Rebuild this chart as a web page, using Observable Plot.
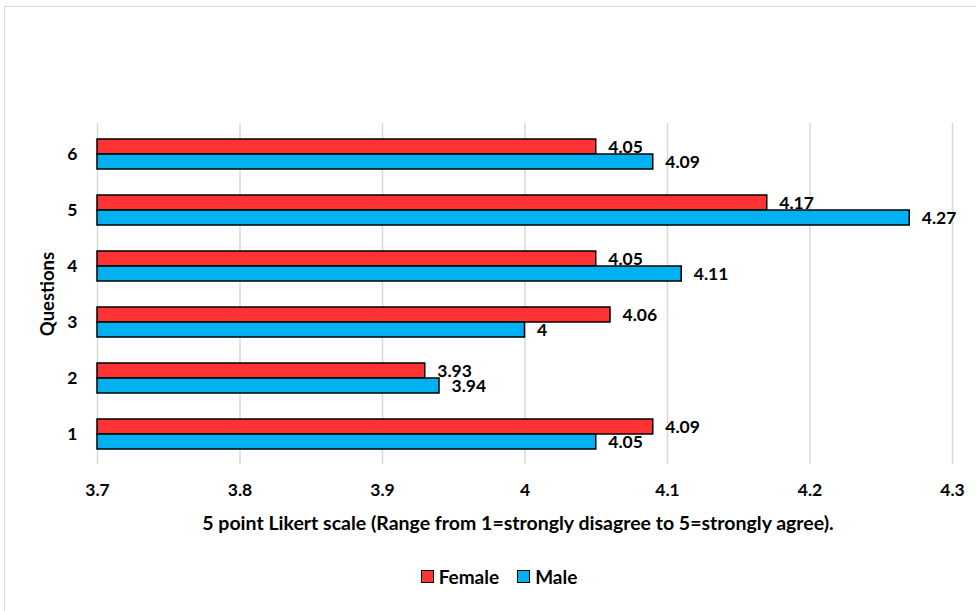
<!DOCTYPE html>
<html>
<head>
<meta charset="utf-8">
<script src="https://cdn.jsdelivr.net/npm/d3@7"></script>
<script src="https://cdn.jsdelivr.net/npm/@observablehq/plot@0.6"></script>
<style>
  body { margin: 0; background: #fff; font-family: Lato, "Open Sans", sans-serif; }
  #wrap { position: relative; width: 976px; height: 611px; overflow: hidden; }
  #frame { position: absolute; left: 4px; top: 6px; width: 1000px; height: 700px; border: 1px solid #d9d9d9; box-sizing: border-box; }
  #chart { position: absolute; left: 0; top: 0; }
  #legend { position: absolute; top: 565px; left: 0; width: 976px; display: flex; justify-content: center; gap: 18px; font-weight: 700; font-size: 19px; color: #000; padding-left: 22px; box-sizing: border-box; }
  .item { display: flex; align-items: center; gap: 5px; }
  .sw { width: 11px; height: 11px; border: 1.5px solid #000; }
</style>
</head>
<body>
<div id="wrap">
  <div id="frame"></div>
  <div id="chart"></div>
  <div id="legend"></div>
</div>
<script>
const questions = ["1", "2", "3", "4", "5", "6"];
const female = [4.09, 3.93, 4.06, 4.05, 4.17, 4.05];
const male = [4.05, 3.94, 4.00, 4.11, 4.27, 4.09];
const xTicks = [3.7, 3.8, 3.9, 4.0, 4.1, 4.2, 4.3];
const seriesNames = ["Female", "Male"];
const seriesColors = ["#FF3333", "#00B0F0"];

const fData = questions.map((q, i) => ({q, v: female[i]}));
const mData = questions.map((q, i) => ({q, v: male[i]}));
const base = xTicks[0];

const fmt = d => String(+d.toFixed(2));

const chart = Plot.plot({
  width: 976,
  height: 555,
  marginLeft: 97,
  marginRight: 24,
  marginTop: 123,
  marginBottom: 91,
  style: { fontFamily: "Lato, 'Open Sans', sans-serif", fontWeight: 700, color: "#000", background: "transparent" },
  x: { domain: [xTicks[0], xTicks[xTicks.length - 1]], ticks: xTicks, tickFormat: d => String(+d.toFixed(1)), tickSize: 0, tickPadding: 20, label: null },
  y: { domain: questions.slice().reverse(), paddingInner: 0.472, paddingOuter: 0.236, tickSize: 0, tickPadding: 20, label: null },
  marks: [
    Plot.gridX(xTicks, { stroke: "#d9d9d9", strokeOpacity: 1, strokeWidth: 1.5 }),
    Plot.axisX({ ticks: xTicks, tickFormat: d => String(+d.toFixed(1)), tickSize: 0, tickPadding: 19, fontSize: 17.5, fontWeight: 700, label: null }),
    Plot.axisY({ tickSize: 0, tickPadding: 20, fontSize: 17.5, fontWeight: 700, label: null }),
    Plot.barX(fData, { x1: () => base, x2: "v", y: "q", insetBottom: 15, fill: seriesColors[0], stroke: "#000", strokeWidth: 1.5 }),
    Plot.text(fData, { x: "v", y: "q", text: d => fmt(d.v), dy: -7.5, dx: 12, textAnchor: "start", fontSize: 17.5, fontWeight: 700, fill: "#000" }),
    Plot.barX(mData, { x1: () => base, x2: "v", y: "q", insetTop: 15, fill: seriesColors[1], stroke: "#000", strokeWidth: 1.5 }),
    Plot.text(mData, { x: "v", y: "q", text: d => fmt(d.v), dy: 7.5, dx: 12, textAnchor: "start", fontSize: 17.5, fontWeight: 700, fill: "#000" }),
    Plot.text(["Questions"], { frameAnchor: "left", textAnchor: "middle", lineAnchor: "middle", rotate: -90, dx: -49, fontSize: 18.5, fontWeight: 700, fill: "#000" }),
    Plot.text(["5 point Likert scale (Range from 1=strongly disagree to 5=strongly agree)."], { frameAnchor: "bottom", textAnchor: "middle", lineAnchor: "middle", dy: 59, dx: -7, fontSize: 19.5, fontWeight: 700, fill: "#000" })
  ]
});
document.getElementById("chart").appendChild(chart);

const legend = document.getElementById("legend");
seriesNames.forEach((name, i) => {
  const item = document.createElement("div");
  item.className = "item";
  const sw = document.createElement("div");
  sw.className = "sw";
  sw.style.background = seriesColors[i];
  const label = document.createElement("span");
  label.textContent = name;
  item.appendChild(sw);
  item.appendChild(label);
  legend.appendChild(item);
});
</script>
</body>
</html>
